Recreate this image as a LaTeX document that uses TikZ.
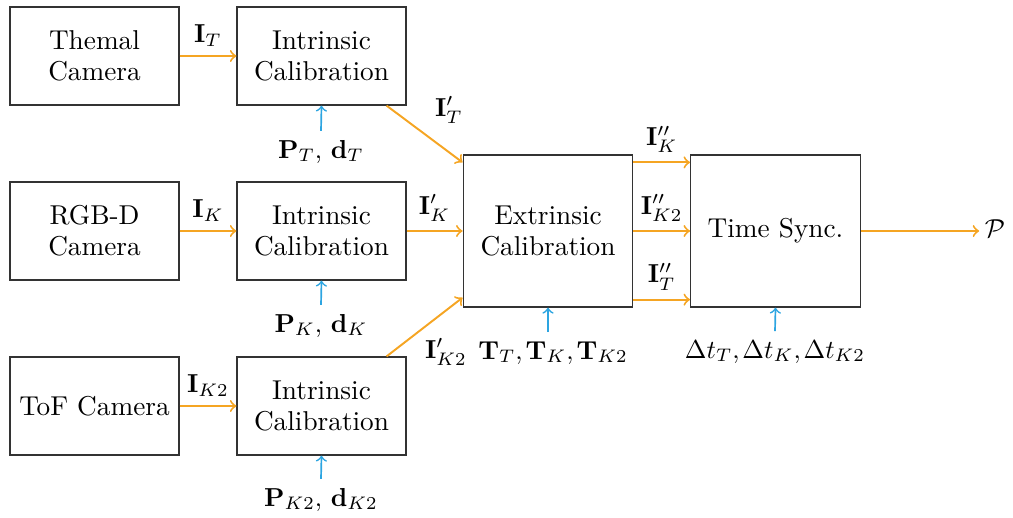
\documentclass[tikz,border=0pt]{standalone}
\usetikzlibrary{calc}
\definecolor{flow}{RGB}{245,165,35}
\definecolor{param}{RGB}{45,165,225}
\begin{document}
\begin{tikzpicture}[x=0.385pt,y=-0.385pt,
  blk/.style={draw=black!80,line width=0.5pt,minimum width=65pt,minimum height=37.7pt,align=center,inner sep=0pt,font=\fontsize{10.5}{12}\selectfont},
  bigblk/.style={draw=black!80,line width=0.5pt,minimum width=65.3pt,minimum height=58.5pt,align=center,inner sep=0pt,font=\fontsize{10.5}{12}\selectfont},
  fl/.style={draw=flow,line width=0.75pt,->},
  pa/.style={draw=param,line width=0.65pt,->},
  plab/.style={anchor=base}]
\useasboundingbox (0,0) rectangle (1013,517);
% blocks
\node[blk] (cam1) at (94.5,56) {Themal\\Camera};
\node[blk] (int1) at (321.5,56) {Intrinsic\\Calibration};
\node[blk] (cam2) at (94.5,231) {RGB-D\\Camera};
\node[blk] (int2) at (321.5,231) {Intrinsic\\Calibration};
\node[blk] (cam3) at (94.5,406) {ToF Camera};
\node[blk] (int3) at (321.5,406) {Intrinsic\\Calibration};
\node[bigblk] (ext) at (548,231) {Extrinsic\\Calibration};
\node[bigblk] (ts) at (775.5,231) {Time Sync.};
\node[inner sep=2pt] (pout) at (995,229) {$\mathcal{P}$};
% parameter labels
\node[plab] (p1) at (321,158) {$\mathbf{P}_T$, $\mathbf{d}_T$};
\node[plab] (p2) at (321,332) {$\mathbf{P}_K$, $\mathbf{d}_K$};
\node[plab] (p3) at (321,506) {$\mathbf{P}_{K2}$, $\mathbf{d}_{K2}$};
\node[plab] (pe) at (553,359) {$\mathbf{T}_T{,}\mkern2mu\mathbf{T}_K{,}\mkern2mu\mathbf{T}_{K2}$};
\node[plab] (pt) at (775,358) {$\Delta t_T{,}\mkern2mu\Delta t_K{,}\mkern2mu\Delta t_{K2}$};
\draw[pa] (p1.north) -- (int1.south);
\draw[pa] (p2.north) -- (int2.south);
\draw[pa] (p3.north) -- (int3.south);
\draw[pa] (pe.north -| ext.south) -- (ext.south);
\draw[pa] (pt.north) -- (ts.south);
% camera to intrinsic
\draw[fl] (cam1.east) -- node[above] {$\mathbf{I}_T$} (int1.west);
\draw[fl] (cam2.east) -- node[above] {$\mathbf{I}_K$} (int2.west);
\draw[fl] (cam3.east) -- node[above] {$\mathbf{I}_{K2}$} (int3.west);
% intrinsic to extrinsic
\draw[fl] ($(int1.south east)+(-20,0)$) -- ($(ext.north west)+(0,8)$);
\node (l1) at (449,110) {$\mathbf{I}'_T$};
\draw[fl] (int2.east) -- node[above] {$\mathbf{I}'_K$} (ext.west);
\draw[fl] ($(int3.north east)+(-20,0)$) -- ($(ext.south west)+(0,-10)$);
\node (l3) at (446,352) {$\mathbf{I}'_{K2}$};
% extrinsic to time sync
\draw[fl] ($(ext.north east)+(0,8)$) -- node[above] {$\mathbf{I}''_K$} ($(ts.north west)+(0,8)$);
\draw[fl] (ext.east) -- node[above] {$\mathbf{I}''_{K2}$} (ts.west);
\draw[fl] ($(ext.south east)+(0,-8)$) -- node[above] {$\mathbf{I}''_T$} ($(ts.south west)+(0,-8)$);
% output
\draw[fl] (ts.east) -- (ts.east -| pout.west);
\end{tikzpicture}
\end{document}
